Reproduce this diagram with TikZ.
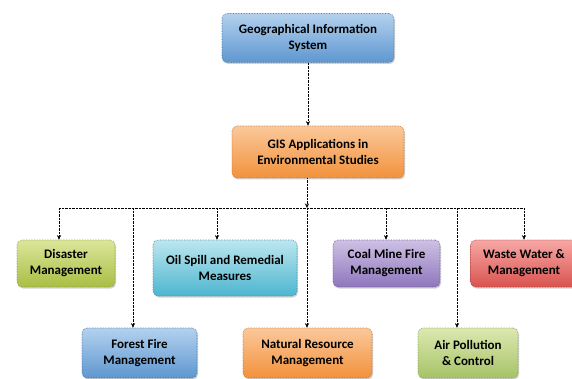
\documentclass[tikz,border=0pt]{standalone}
\usepackage{fontspec}
\setmainfont{Carlito}
\usepackage{tikz}
\usetikzlibrary{positioning}
\usetikzlibrary{arrows.meta}
\usetikzlibrary{shadows}

\definecolor{blueTop}{HTML}{B3D1EE}
\definecolor{blueBot}{HTML}{5E97D0}
\definecolor{blueLine}{HTML}{41719C}
\definecolor{orangeTop}{HTML}{FBC89A}
\definecolor{orangeBot}{HTML}{F2923C}
\definecolor{orangeLine}{HTML}{C0722F}
\definecolor{greenTop}{HTML}{DCE69A}
\definecolor{greenBot}{HTML}{A9BE44}
\definecolor{greenLine}{HTML}{879838}
\definecolor{cyanTop}{HTML}{BDE6EF}
\definecolor{cyanBot}{HTML}{4DB6CF}
\definecolor{cyanLine}{HTML}{3990A5}
\definecolor{purpleTop}{HTML}{CDC1E4}
\definecolor{purpleBot}{HTML}{8F76BD}
\definecolor{purpleLine}{HTML}{6A5695}
\definecolor{redTop}{HTML}{F7A8A6}
\definecolor{redBot}{HTML}{D9534F}
\definecolor{redLine}{HTML}{A8403D}
\definecolor{leafTop}{HTML}{DCE8B0}
\definecolor{leafBot}{HTML}{A6C367}
\definecolor{leafLine}{HTML}{7F9A48}

\begin{document}
\begin{tikzpicture}[x=1pt,y=-1pt,
  box/.style={rounded corners=5pt,densely dotted,line width=0.6pt,align=center,inner sep=0pt,
    font=\bfseries\fontsize{13}{16}\selectfont,
    drop shadow={shadow xshift=1pt,shadow yshift=-1.5pt,opacity=0.35}},
  bluebox/.style={box,top color=blueTop,bottom color=blueBot,draw=blueLine},
  orangebox/.style={box,top color=orangeTop,bottom color=orangeBot,draw=orangeLine},
  greenbox/.style={box,top color=greenTop,bottom color=greenBot,draw=greenLine},
  cyanbox/.style={box,top color=cyanTop,bottom color=cyanBot,draw=cyanLine},
  purplebox/.style={box,top color=purpleTop,bottom color=purpleBot,draw=purpleLine},
  redbox/.style={box,top color=redTop,bottom color=redBot,draw=redLine},
  leafbox/.style={box,top color=leafTop,bottom color=leafBot,draw=leafLine},
  link/.style={-{Stealth[length=4.5pt,width=4pt]},densely dotted,thin,black}]
  \useasboundingbox[fill=white] (0,0) rectangle (572,379);

  \node[bluebox,minimum width=172pt,minimum height=49pt] (gis) at (308,38) {Geographical Information\\System};
  \node[orangebox,minimum width=172pt,minimum height=52pt] (app) at (318,152) {GIS Applications in\\Environmental Studies};

  % upper row
  \node[greenbox,minimum width=98pt,minimum height=47pt] (dis) at (66,263.5) {Disaster\\Management};
  \node[cyanbox,minimum width=144pt,minimum height=56pt] (oil) at (225,268) {Oil Spill and Remedial\\Measures};
  \node[purplebox,minimum width=107pt,minimum height=47pt] (coal) at (386.5,263.5) {Coal Mine Fire\\Management};
  \node[redbox,minimum width=107pt,minimum height=47pt] (waste) at (524,263.5) {Waste Water \&\\Management};

  % lower row
  \node[bluebox,minimum width=115pt,minimum height=50pt] (forest) at (139.5,353) {Forest Fire\\Management};
  \node[orangebox,minimum width=129pt,minimum height=50pt] (nat) at (307.5,353) {Natural Resource\\Management};
  \node[leafbox,minimum width=100pt,minimum height=50pt] (air) at (468,353) {Air Pollution\\\& Control};

  % bus line
  \coordinate (b1) at (59,208);
  \coordinate (b2) at (133,208);
  \coordinate (b3) at (217,208);
  \coordinate (b4) at (307,208);
  \coordinate (b5) at (386,208);
  \coordinate (b6) at (457,208);
  \coordinate (b7) at (524,208);

  \draw[link] (gis.south) -- (gis.south |- app.north);
  \draw[link] (b4 |- app.south) -- (b4);
  \draw[densely dotted,thin] (b1) -- (b7);
  \foreach \b/\t in {b1/dis,b2/forest,b3/oil,b4/nat,b5/coal,b6/air,b7/waste}{
    \draw[link] (\b) -- (\b |- \t.north);
  } % drops from the bus to each application
\end{tikzpicture}
\end{document}
